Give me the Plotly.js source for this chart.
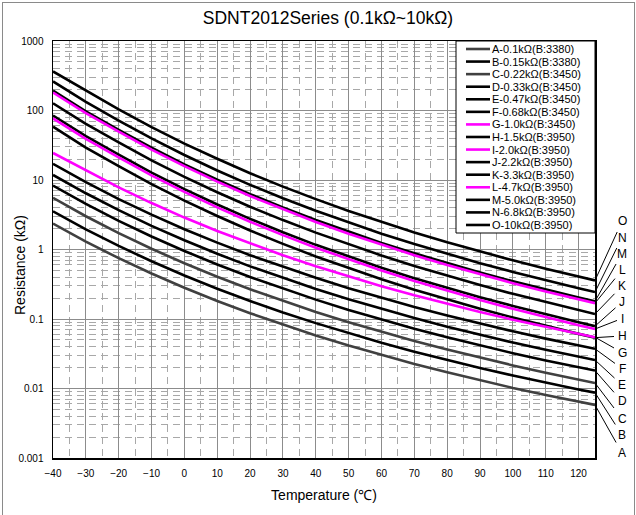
<!DOCTYPE html>
<html><head><meta charset="utf-8">
<script src="https://cdn.plot.ly/plotly-3.0.1.min.js"></script>
<style>
html,body{margin:0;padding:0;background:#fff;}
#wrap{position:relative;width:636px;height:515px;overflow:hidden;}
#chart{width:636px;height:515px;}
#frame{position:absolute;left:2px;top:2px;width:631px;height:530px;border:1px solid #8a8a8a;pointer-events:none;}
</style></head><body>
<div id="wrap"><div id="chart"></div><div id="frame"></div></div>
<script>
// Temperatures (°C)
const temps = [-40,-30,-20,-10,0,10,20,30,40,50,60,70,80,90,100,110,120,125];

// Resistance (kΩ) per series
const serA = [2.36,1.30,0.750,0.452,0.282,0.182,0.121,0.0830,0.0581,0.0416,0.0304,0.0226,0.0171,0.0132,0.0102,0.00809,0.00646,0.00580];
const serB = [3.54,1.95,1.125,0.678,0.423,0.273,0.182,0.124,0.0872,0.0624,0.0456,0.0339,0.0257,0.0197,0.0154,0.0121,0.00969,0.0087];
const serC = [5.54,3.01,1.72,1.025,0.634,0.406,0.268,0.182,0.126,0.0899,0.0653,0.0482,0.0363,0.0277,0.0215,0.0169,0.0134,0.0120];
const serD = [8.31,4.52,2.58,1.54,0.952,0.609,0.402,0.273,0.190,0.135,0.0979,0.0724,0.0545,0.0416,0.0322,0.0253,0.0201,0.0181];
const serE = [11.8,6.44,3.68,2.19,1.356,0.868,0.572,0.388,0.270,0.192,0.139,0.103,0.0776,0.0593,0.0459,0.0361,0.0287,0.0257];
const serF = [17.1,9.32,5.32,3.17,1.96,1.255,0.828,0.562,0.391,0.278,0.202,0.149,0.112,0.0857,0.0664,0.0522,0.0415,0.0372];
const serG = [24.5,13.7,7.82,4.66,2.88,1.85,1.22,0.826,0.575,0.409,0.297,0.219,0.165,0.126,0.0977,0.0768,0.0610,0.0547];
const serH = [58.5,29.3,15.8,8.74,5.04,3.03,1.88,1.206,0.795,0.538,0.373,0.264,0.191,0.140,0.105,0.0794,0.0611,0.0539];
const serI = [77.0,39.0,21.1,11.65,6.73,4.04,2.51,1.608,1.061,0.718,0.497,0.352,0.254,0.187,0.140,0.106,0.0814,0.0718];
const serJ = [84.7,42.9,23.2,12.8,7.40,4.44,2.76,1.768,1.167,0.789,0.547,0.387,0.280,0.205,0.154,0.116,0.0895,0.0790];
const serK = [127,64.4,34.8,19.2,11.1,6.66,4.13,2.65,1.75,1.184,0.821,0.581,0.419,0.308,0.230,0.175,0.134,0.118];
const serL = [181,91.7,49.5,27.4,15.8,9.48,5.89,3.78,2.49,1.686,1.169,0.827,0.597,0.439,0.328,0.249,0.191,0.169];
const serM = [193,97.5,52.7,29.1,16.8,10.1,6.27,4.02,2.65,1.79,1.24,0.880,0.636,0.467,0.349,0.265,0.204,0.180];
const serN = [262,133,71.7,39.6,22.9,13.7,8.52,5.47,3.61,2.44,1.69,1.197,0.864,0.635,0.475,0.360,0.277,0.244];
const serO = [365,195,104,57.5,33.3,20.2,12.5,8.04,5.30,3.59,2.49,1.76,1.27,0.934,0.698,0.529,0.407,0.359];

const letters = ['A','B','C','D','E','F','G','H','I','J','K','L','M','N','O'];
const names = ['A-0.1kΩ(B:3380)','B-0.15kΩ(B:3380)','C-0.22kΩ(B:3450)','D-0.33kΩ(B:3450)','E-0.47kΩ(B:3450)','F-0.68kΩ(B:3450)','G-1.0kΩ(B:3450)','H-1.5kΩ(B:3950)','I-2.0kΩ(B:3950)','J-2.2kΩ(B:3950)','K-3.3kΩ(B:3950)','L-4.7kΩ(B:3950)','M-5.0kΩ(B:3950)','N-6.8kΩ(B:3950)','O-10kΩ(B:3950)'];
const colors = ['#404040','#000000','#404040','#000000','#000000','#000000','#ff00ff','#000000','#ff00ff','#000000','#000000','#ff00ff','#000000','#000000','#000000'];
const series = [serA,serB,serC,serD,serE,serF,serG,serH,serI,serJ,serK,serL,serM,serN,serO];

const yTickVals = [0.001,0.01,0.1,1,10,100,1000];
const yTickText = ['0.001','0.01','0.1','1','10','100','1000'];

// layout geometry (pixels)
const W = 636, H = 515, ML = 53, MR = 41, MT = 41, MB = 57;
const PW = W - ML - MR, PH = H - MT - MB;
const px2x = p => (p - ML) / PW;
const py2y = p => (H - MB - p) / PH;
const FONT = 'Liberation Sans, Arial, sans-serif';

// right-side letter label pixel rows (A..O)
const labelRowsPx = [453,435,418.5,401.5,385,368.5,352.5,336,318.5,302,286,270,253.5,237.5,221.5];

const order = [0,1,2,3,4,5,7,9,10,12,13,14,6,8,11]; // magenta on top
const traces = order.map(i => ({
  x: temps, y: series[i], type: 'scatter', mode: 'lines', name: names[i],
  line: {color: colors[i], width: 2.6}, showlegend: false, hoverinfo: 'skip'
}));

const shapes = [];
const annotations = [];

// legend box
const lgTop = 41, lgBottom = 233, lgLeft = 456, lgRight = 595;
shapes.push({type:'rect', xref:'paper', yref:'paper', x0:px2x(lgLeft), x1:px2x(lgRight), y0:py2y(lgBottom), y1:py2y(lgTop),
  fillcolor:'#ffffff', line:{color:'#000', width:1}, layer:'above'});
names.forEach((nm, i) => {
  const py = 49 + i * 12.57;
  shapes.push({type:'line', xref:'paper', yref:'paper', x0:px2x(466), x1:px2x(490), y0:py2y(py), y1:py2y(py),
    line:{color:colors[i], width:2.6}, layer:'above'});
  annotations.push({xref:'paper', yref:'paper', x:px2x(490.5), y:py2y(py), xanchor:'left', yanchor:'middle',
    text:nm, showarrow:false, borderpad:0, font:{family:FONT, size:11, color:'#000'}});
});

// letter labels with leader lines
series.forEach((s, i) => {
  const v = s[s.length - 1];
  const endPy = MT + (3 - Math.log10(v)) / 6 * PH;
  annotations.push({xref:'x', yref:'y', x:temps[temps.length-1], y:Math.log10(v),
    text:letters[i], showarrow:true, arrowhead:0, arrowwidth:1, arrowcolor:'#000', standoff:0,
    ax:27, ay:labelRowsPx[i] - endPy, borderpad:3,
    font:{family:FONT, size:12, color:'#000'}});
});

// y-axis title
annotations.push({xref:'paper', yref:'paper', x:px2x(20), y:py2y(265), xanchor:'center', yanchor:'middle',
  text:'Resistance (kΩ)', textangle:-90, showarrow:false,
  font:{family:FONT, size:14, color:'#000'}});

const layout = {
  width: W, height: H,
  margin: {l: ML, r: MR, t: MT, b: MB, pad: 0},
  paper_bgcolor: '#fff', plot_bgcolor: '#fff',
  showlegend: false,
  title: {text: 'SDNT2012Series (0.1kΩ~10kΩ)', x: px2x(328), xref: 'paper', xanchor: 'center', y: 1 - 18/H, yanchor: 'middle',
    font: {family: FONT, size: 17.5, color: '#000'}},
  xaxis: {
    range: [-40, 125], tick0: -40, dtick: 10, tickmode: 'linear',
    showgrid: true, gridcolor: '#8c8c8c', gridwidth: 1, zeroline: false,
    minor: {tick0: -40, dtick: 5, showgrid: true, gridcolor: '#a8a8a8', gridwidth: 1, griddash: '7px,5px'},
    showline: true, linecolor: '#000', linewidth: 1.5, mirror: true, ticks: '',
    ticklabelstandoff: 5,
    tickfont: {family: FONT, size: 10, color: '#000'},
    title: {text: 'Temperature (℃)', standoff: 12, font: {family: FONT, size: 14, color: '#000'}}
  },
  yaxis: {
    type: 'log', range: [-3, 3], tickmode: 'array', tickvals: yTickVals, ticktext: yTickText,
    showgrid: true, gridcolor: '#8c8c8c', gridwidth: 1, zeroline: false,
    minor: {dtick: 'D1', showgrid: true, gridcolor: '#a8a8a8', gridwidth: 1, griddash: '7px,5px'},
    showline: true, linecolor: '#000', linewidth: 1.5, mirror: true, ticks: '',
    ticklabelstandoff: 6,
    tickfont: {family: FONT, size: 10, color: '#000'}
  },
  shapes: shapes,
  annotations: annotations
};

Plotly.newPlot('chart', traces, layout, {staticPlot: true, displayModeBar: false});
</script>
</body></html>
